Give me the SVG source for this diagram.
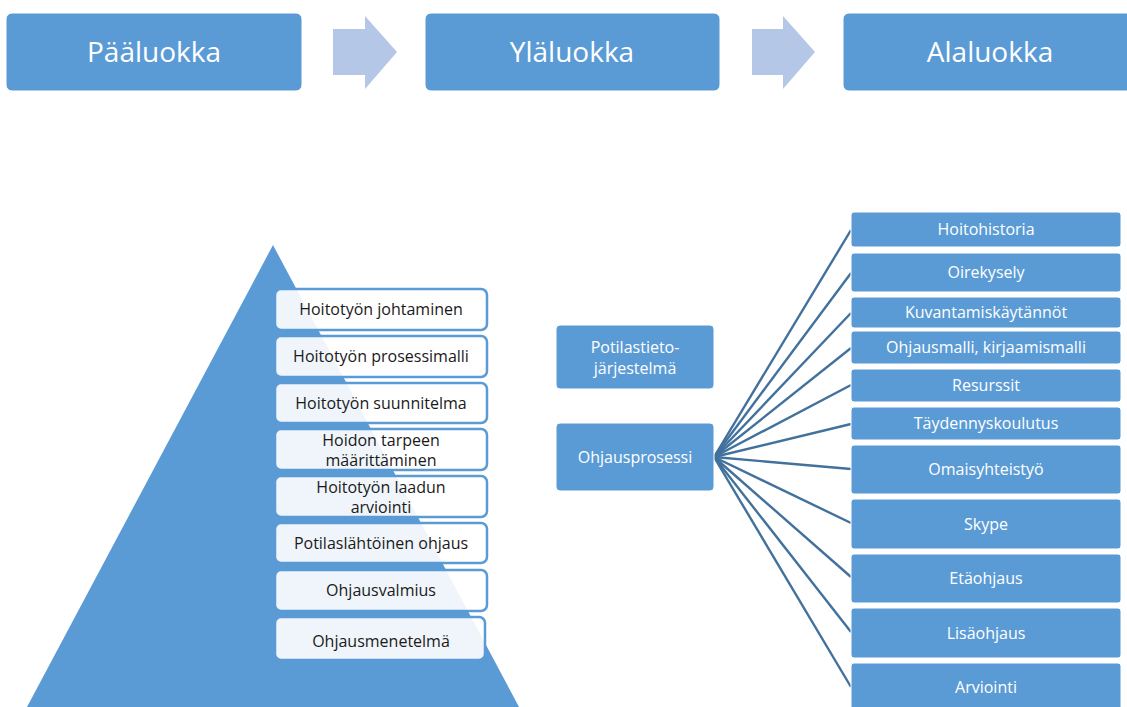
<svg xmlns="http://www.w3.org/2000/svg" width="1127" height="707" viewBox="0 0 1127 707">
<style>
.blue{fill:#5B9BD5;stroke:#FFFFFF;stroke-width:1}
.arrow{fill:#B4C7E7}
.pbox{fill:#FFFFFF;fill-opacity:0.9;stroke:#5B9BD5;stroke-width:2.5}
.big{font-family:"Open Sans",sans-serif;font-size:28px;fill:#FFFFFF;text-anchor:middle}
.wt{font-family:"Open Sans",sans-serif;font-size:16px;fill:#FFFFFF;text-anchor:middle}
.dk{font-family:"Open Sans",sans-serif;font-size:16px;fill:#1A1A1A;text-anchor:middle}
.con{stroke:#41719C;stroke-width:2.4;fill:none}
</style>
<g id="paaluokka"><rect class="blue" x="6" y="13" width="296" height="78" rx="6"/><text class="big" x="154" y="62">Pääluokka</text></g>
<g id="arrow1"><polygon class="arrow" points="333,29 365,29 365,16 397,52 365,89 365,75 333,75"/></g>
<g id="ylaluokka"><rect class="blue" x="425" y="13" width="295" height="78" rx="6"/><text class="big" x="572" y="62">Yläluokka</text></g>
<g id="arrow2"><polygon class="arrow" points="752,29 783,29 783,16 815,52 783,89 783,75 752,75"/></g>
<g id="alaluokka"><rect class="blue" x="843" y="13" width="300" height="78" rx="6"/><text class="big" x="990" y="62">Alaluokka</text></g>

<g id="pyramid"><polygon points="273,245 519,707 27,707" fill="#5B9BD5"/></g>
<g id="p1"><rect class="pbox" x="275" y="289" width="212" height="41" rx="6"/><text class="dk" x="381" y="315">Hoitotyön johtaminen</text></g>
<g id="p2"><rect class="pbox" x="275" y="336" width="212" height="41" rx="6"/><text class="dk" x="381" y="362">Hoitotyön prosessimalli</text></g>
<g id="p3"><rect class="pbox" x="275" y="383" width="212" height="40" rx="6"/><text class="dk" x="381" y="409">Hoitotyön suunnitelma</text></g>
<g id="p4"><rect class="pbox" x="275" y="429" width="212" height="41" rx="6"/><text class="dk" x="381" y="446">Hoidon tarpeen</text><text class="dk" x="381" y="466">määrittäminen</text></g>
<g id="p5"><rect class="pbox" x="275" y="476" width="212" height="41" rx="6"/><text class="dk" x="381" y="493">Hoitotyön laadun</text><text class="dk" x="381" y="513">arviointi</text></g>
<g id="p6"><rect class="pbox" x="275" y="523" width="212" height="40" rx="6"/><text class="dk" x="381" y="549">Potilaslähtöinen ohjaus</text></g>
<g id="p7"><rect class="pbox" x="275" y="570" width="212" height="41" rx="6"/><text class="dk" x="381" y="596">Ohjausvalmius</text></g>
<g id="p8"><rect class="pbox" x="275" y="617" width="210" height="43" rx="6"/><text class="dk" x="381" y="647">Ohjausmenetelmä</text></g>

<g id="connectors">
<line class="con" x1="714" y1="457" x2="851" y2="230"/>
<line class="con" x1="714" y1="457" x2="851" y2="273"/>
<line class="con" x1="714" y1="457" x2="851" y2="313"/>
<line class="con" x1="714" y1="457" x2="851" y2="348"/>
<line class="con" x1="714" y1="457" x2="851" y2="385"/>
<line class="con" x1="714" y1="457" x2="851" y2="424"/>
<line class="con" x1="714" y1="457" x2="851" y2="469"/>
<line class="con" x1="714" y1="457" x2="851" y2="523"/>
<line class="con" x1="714" y1="457" x2="851" y2="577"/>
<line class="con" x1="714" y1="457" x2="851" y2="632"/>
<line class="con" x1="714" y1="457" x2="851" y2="687"/>
</g>

<g id="potilastieto"><rect class="blue" x="556" y="325" width="158" height="64" rx="4"/><text class="wt" x="635" y="353">Potilastieto-</text><text class="wt" x="635" y="374">järjestelmä</text></g>
<g id="ohjausprosessi"><rect class="blue" x="556" y="423" width="158" height="68" rx="4"/><text class="wt" x="635" y="463">Ohjausprosessi</text></g>

<g id="r1"><rect class="blue" x="851" y="212" width="270" height="35" rx="3"/><text class="wt" x="986" y="235">Hoitohistoria</text></g>
<g id="r2"><rect class="blue" x="851" y="253" width="270" height="39" rx="3"/><text class="wt" x="986" y="278">Oirekysely</text></g>
<g id="r3"><rect class="blue" x="851" y="297" width="270" height="31" rx="3"/><text class="wt" x="986" y="318">Kuvantamiskäytännöt</text></g>
<g id="r4"><rect class="blue" x="851" y="331" width="270" height="33" rx="3"/><text class="wt" x="986" y="353">Ohjausmalli, kirjaamismalli</text></g>
<g id="r5"><rect class="blue" x="851" y="369" width="270" height="33" rx="3"/><text class="wt" x="986" y="391">Resurssit</text></g>
<g id="r6"><rect class="blue" x="851" y="407" width="270" height="33" rx="3"/><text class="wt" x="986" y="429">Täydennyskoulutus</text></g>
<g id="r7"><rect class="blue" x="851" y="445" width="270" height="49" rx="3"/><text class="wt" x="986" y="475">Omaisyhteistyö</text></g>
<g id="r8"><rect class="blue" x="851" y="499" width="270" height="50" rx="3"/><text class="wt" x="986" y="530">Skype</text></g>
<g id="r9"><rect class="blue" x="851" y="554" width="270" height="49" rx="3"/><text class="wt" x="986" y="584">Etäohjaus</text></g>
<g id="r10"><rect class="blue" x="851" y="608" width="270" height="50" rx="3"/><text class="wt" x="986" y="639">Lisäohjaus</text></g>
<g id="r11"><rect class="blue" x="851" y="663" width="270" height="50" rx="3"/><text class="wt" x="986" y="693">Arviointi</text></g>
</svg>
